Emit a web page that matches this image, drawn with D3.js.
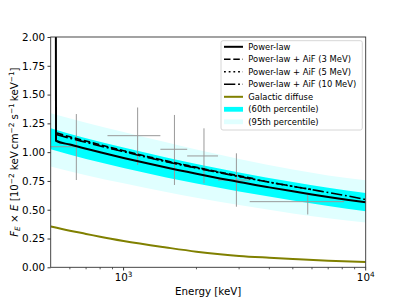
<!DOCTYPE html>
<meta charset="utf-8">
<title>Power-law spectrum</title>
<head>
    <script src="https://d3js.org/d3.v7.min.js"></script>
    <style>
        body { margin: 0; background: #fff; }
        text { font-family: "DejaVu Sans", sans-serif; }
    </style>
</head>
<body>
<script>

    // power-law fit (the first point is the steep rise at the low edge)
    var plEnergy = [525, 526, 600, 700, 800, 1000, 1250, 1500, 2000, 2500, 3000, 3500, 4000, 5000, 6000, 7000, 8500, 10000];
    var plValue = [2.3, 1.099, 1.066, 1.030, 0.999, 0.950, 0.903, 0.866, 0.812, 0.772, 0.741, 0.715, 0.694, 0.660, 0.633, 0.611, 0.585, 0.564];

    // power-law + annihilation in flight
    var aif3Energy = [530, 600, 700, 800, 1000, 1250, 1500, 2000, 2500, 3000, 3500];
    var aif3Value = [1.166, 1.133, 1.096, 1.064, 1.013, 0.963, 0.924, 0.868, 0.826, 0.794, 0.767];
    var aif5Energy = [530, 600, 700, 800, 1000, 1250, 1500, 2000, 2500, 3000, 3500, 4000, 5000, 6000];
    var aif5Value = [1.159, 1.127, 1.091, 1.059, 1.008, 0.958, 0.920, 0.864, 0.822, 0.789, 0.762, 0.739, 0.703, 0.675];
    var aif10Energy = [530, 600, 700, 800, 1000, 1250, 1500, 2000, 2500, 3000, 3500, 4000, 5000, 6000, 7000, 8500, 10000];
    var aif10Value = [1.152, 1.121, 1.085, 1.054, 1.004, 0.955, 0.917, 0.862, 0.820, 0.788, 0.761, 0.739, 0.703, 0.674, 0.650, 0.618, 0.588];

    // percentile bands
    var bandEnergy = [500, 700, 1000, 1500, 2000, 3000, 5000, 7000, 10000];
    var band60Hi = [1.207, 1.120, 1.040, 0.953, 0.897, 0.824, 0.740, 0.690, 0.645];
    var band60Lo = [1.025, 0.940, 0.862, 0.780, 0.727, 0.658, 0.580, 0.532, 0.486];
    var band95Hi = [1.337, 1.255, 1.175, 1.085, 1.022, 0.940, 0.850, 0.798, 0.755];
    var band95Lo = [0.875, 0.800, 0.730, 0.655, 0.605, 0.540, 0.468, 0.425, 0.390];

    // galactic diffuse
    var galEnergy = [500, 600, 700, 800, 1000, 1500, 2000, 2500, 3000, 4000, 5000, 7000, 10000];
    var galValue = [0.355, 0.318, 0.290, 0.265, 0.228, 0.172, 0.136, 0.114, 0.099, 0.083, 0.072, 0.057, 0.047];

    // measured points
    var ptEnergy = [638, 1143, 1622, 2148, 2924, 5763];
    var ptELo = [450, 858, 1419, 1831, 2455, 3318];
    var ptEHi = [640, 1419, 1831, 2455, 3318, 8147];
    var ptValue = [1.047, 1.143, 1.025, 0.967, 0.758, 0.570];
    var ptLo = [0.758, 0.888, 0.715, 0.730, 0.526, 0.459];
    var ptHi = [1.331, 1.388, 1.323, 1.207, 0.990, 0.628];

    var yTicks = [0, 0.25, 0.5, 0.75, 1.0, 1.25, 1.5, 1.75, 2.0];
    var xMajor = [1000, 10000];
    var xMinor = [600, 700, 800, 900, 2000, 3000, 4000, 5000, 6000, 7000, 8000, 9000];

    var legendLabels = ["Power-law", "Power-law + AiF (3 MeV)", "Power-law + AiF (5 MeV)",
        "Power-law + AiF (10 MeV)", "Galactic diffuse", "(60th percentile)", "(95th percentile)"];

    var width = 407, height = 305,
            axL = 50.7, axR = 365.7, axT = 37, axB = 267.3;

    var x = d3.scaleLog().domain([500, 10000]).range([axL, axR]);
    var y = d3.scaleLinear().domain([0, 2]).range([axB, axT]);

    var svg = d3.select("body").append("svg")
            .attr("width", width)
            .attr("height", height);

    svg.append("defs").append("clipPath").attr("id", "plotclip")
            .append("rect")
            .attr("x", axL).attr("y", axT)
            .attr("width", axR - axL).attr("height", axB - axT);

    var plot = svg.append("g").attr("clip-path", "url(#plotclip)");

    function zip(es, vs) {
        return es.map(function (e, i) { return [e, vs[i]]; });
    }
    var line = d3.line().x(function (d) { return x(d[0]); }).y(function (d) { return y(d[1]); })
            .curve(d3.curveMonotoneX);
    var area = d3.area().x(function (d) { return x(d[0]); })
            .y0(function (d) { return y(d[1]); }).y1(function (d) { return y(d[2]); })
            .curve(d3.curveMonotoneX);

    plot.append("path")
            .attr("d", area(bandEnergy.map(function (e, i) { return [e, band95Lo[i], band95Hi[i]]; })))
            .attr("fill", "#e0ffff");
    plot.append("path")
            .attr("d", area(bandEnergy.map(function (e, i) { return [e, band60Lo[i], band60Hi[i]]; })))
            .attr("fill", "#00ffff");

    // error bars
    var eb = plot.append("g").attr("stroke", "#999").attr("stroke-width", 1);
    for (var i = 0; i < ptEnergy.length; i++) {
        eb.append("line")
                .attr("x1", x(ptELo[i])).attr("x2", x(ptEHi[i]))
                .attr("y1", y(ptValue[i])).attr("y2", y(ptValue[i]));
        eb.append("line")
                .attr("x1", x(ptEnergy[i])).attr("x2", x(ptEnergy[i]))
                .attr("y1", y(ptLo[i])).attr("y2", y(ptHi[i]));
    }

    var styles = [
        {color: "#000", dash: null},
        {color: "#000", dash: "6.5,2.8"},
        {color: "#000", dash: "1.8,2.9"},
        {color: "#000", dash: "11.3,2.8,1.8,2.8"},
        {color: "#808000", dash: null}
    ];
    var series = [
        zip(plEnergy, plValue),
        zip(aif3Energy, aif3Value),
        zip(aif5Energy, aif5Value),
        zip(aif10Energy, aif10Value),
        zip(galEnergy, galValue)
    ];
    // galactic first, then AiF lines, power-law on top
    [4, 1, 2, 3, 0].forEach(function (k) {
        plot.append("path")
                .attr("d", line(series[k]))
                .attr("fill", "none")
                .attr("stroke", styles[k].color)
                .attr("stroke-width", k === 0 || k === 4 ? 2 : 1.6)
                .attr("stroke-dasharray", styles[k].dash);
    });

    // frame
    svg.append("rect")
            .attr("x", axL).attr("y", axT)
            .attr("width", axR - axL).attr("height", axB - axT)
            .attr("fill", "none").attr("stroke", "#333").attr("stroke-width", 0.9);

    // y axis
    var yAxis = svg.append("g").attr("transform", "translate(" + axL + ",0)")
            .call(d3.axisLeft(y).tickValues(yTicks).tickFormat(d3.format(".2f")).tickSize(3.2).tickPadding(2.5));
    yAxis.select(".domain").remove();
    yAxis.selectAll("text").attr("font-size", "10.3px").attr("fill", "#000")
            .style("font-family", "DejaVu Sans");
    yAxis.selectAll("line").attr("stroke", "#333");

    // x axis
    var xAxis = svg.append("g").attr("transform", "translate(0," + axB + ")");
    xAxis.selectAll(".minor").data(xMinor).enter().append("line")
            .attr("x1", function (d) { return x(d); }).attr("x2", function (d) { return x(d); })
            .attr("y1", 0).attr("y2", 2).attr("stroke", "#333").attr("stroke-width", 0.8);
    var maj = xAxis.selectAll(".major").data(xMajor).enter().append("g")
            .attr("transform", function (d) { return "translate(" + x(d) + ",0)"; });
    maj.append("line").attr("y1", 0).attr("y2", 3.2).attr("stroke", "#333");
    var lab = maj.append("text").attr("y", 13.8).attr("text-anchor", "middle")
            .attr("font-size", "10.3px").attr("fill", "#000");
    lab.append("tspan").text("10");
    lab.append("tspan").attr("dy", -4).attr("font-size", "7.3px")
            .text(function (d) { return Math.round(Math.log10(d)); });

    svg.append("text")
            .attr("x", (axL + axR) / 2).attr("y", 294.5)
            .attr("text-anchor", "middle").attr("font-size", "10.3px")
            .text("Energy [keV]");

    // y label
    var yl = svg.append("text")
            .attr("transform", "translate(18," + ((axT + axB) / 2) + ") rotate(-90)")
            .attr("text-anchor", "middle").attr("font-size", "10.3px");
    yl.append("tspan").attr("font-style", "italic").text("F");
    yl.append("tspan").attr("font-style", "italic").attr("font-size", "7.3px").attr("dy", 2).text("E");
    yl.append("tspan").attr("dy", -2).text(" \u00d7 ");
    yl.append("tspan").attr("font-style", "italic").text("E");
    yl.append("tspan").text(" [10");
    yl.append("tspan").attr("font-size", "7.3px").attr("dy", -4).text("\u22122");
    yl.append("tspan").attr("dy", 4).text(" keV\u2009cm");
    yl.append("tspan").attr("font-size", "7.3px").attr("dy", -4).text("\u22122");
    yl.append("tspan").attr("dy", 4).text(" s");
    yl.append("tspan").attr("font-size", "7.3px").attr("dy", -4).text("\u22121");
    yl.append("tspan").attr("dy", 4).text("\u2009keV");
    yl.append("tspan").attr("font-size", "7.3px").attr("dy", -4).text("\u22121");
    yl.append("tspan").attr("dy", 4).text("]");

    // legend
    var lg = svg.append("g");
    lg.append("rect")
            .attr("x", 221).attr("y", 40.7).attr("width", 141.3).attr("height", 89.3)
            .attr("rx", 2).attr("fill", "#fff").attr("fill-opacity", 0.85)
            .attr("stroke", "#ccc").attr("stroke-width", 0.8);
    legendLabels.forEach(function (t, i) {
        var cy = 46.8 + i * 12.5;
        if (i < 5) {
            lg.append("line")
                    .attr("x1", 224).attr("x2", 243).attr("y1", cy).attr("y2", cy)
                    .attr("stroke", styles[i].color)
                    .attr("stroke-width", i === 0 || i === 4 ? 2 : 1.6)
                    .attr("stroke-dasharray", styles[i].dash);
        } else {
            lg.append("rect")
                    .attr("x", 224).attr("y", cy - 2.4).attr("width", 19).attr("height", 4.8)
                    .attr("fill", i === 5 ? "#00ffff" : "#e0ffff");
        }
        lg.append("text")
                .attr("x", 248.3).attr("y", cy + 3)
                .attr("font-size", "8.4px").text(t);
    });

</script>
</body>
